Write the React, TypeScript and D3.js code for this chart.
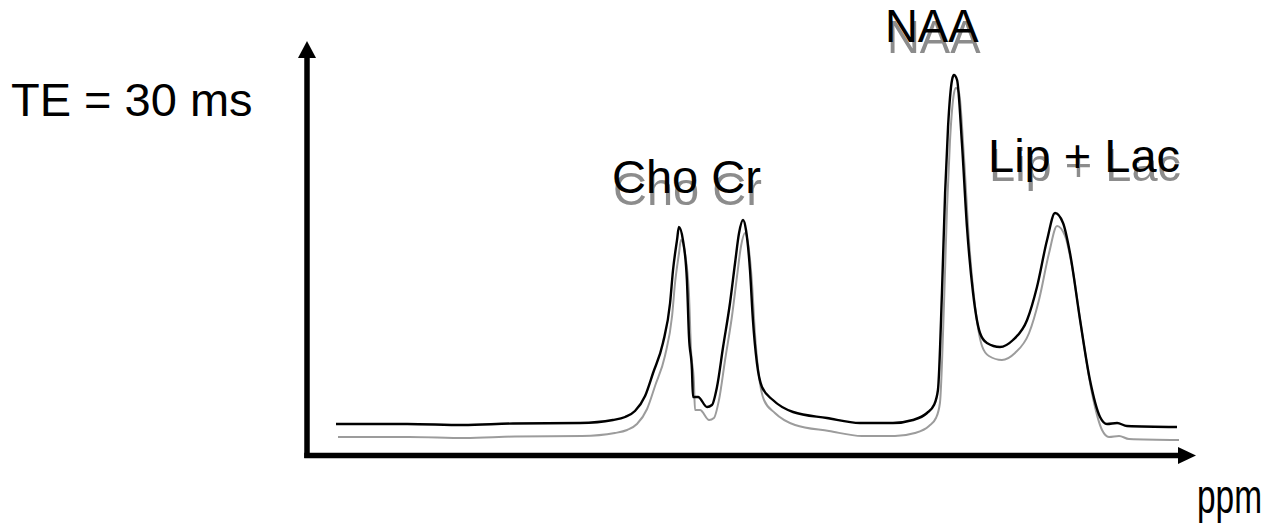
import React from "react";
import * as d3 from "d3";

// ---- data ----
const ppm = [
  4.0, 3.662, 3.396, 3.158, 2.839, 2.683, 2.625, 2.578, 2.53, 2.492, 2.445, 2.411, 2.397, 2.378, 2.369,
  2.35, 2.331, 2.321, 2.307, 2.302, 2.278, 2.235, 2.212, 2.188, 2.159, 2.126, 2.102, 2.083, 2.064,
  2.05, 2.031, 2.017, 1.998, 1.974, 1.922, 1.826, 1.665, 1.508, 1.351, 1.256, 1.189, 1.156,
  1.137, 1.118, 1.103, 1.089, 1.07, 1.061, 1.046, 1.023, 0.999, 0.97, 0.937, 0.904, 0.842, 0.78,
  0.713, 0.666, 0.618, 0.58, 0.542, 0.509, 0.461, 0.414, 0.366, 0.333, 0.285, 0.238, 0.0,
];
const intensity = [
  7.75, 7.75, 7.5, 7.875, 8.0, 8.75, 9.5, 11, 14.75, 20.5, 28, 38, 46.25, 53.75, 57,
  53.75, 43.75, 29.5, 21.25, 14.5, 14.5, 12, 12.5, 17, 27, 38, 48, 55.5, 58.75,
  56.25, 46.25, 33.75, 23, 17, 13.75, 10.75, 9.25, 8, 8, 8.75, 10.5, 12.5,
  16.25, 40.5, 65.5, 82, 93.75, 95, 93.75, 78, 57, 40.5, 30.5, 28, 27, 28.75,
  33.75, 42, 53.75, 60.5, 58, 50.5, 33.75, 18.75, 9.5, 7.75, 8, 7.25, 7,
];
const peakLabels = ["Cho Cr", "NAA", "Lip + Lac"];
const echoLabel = "TE = 30 ms";
const axisLabel = "ppm";

// ---- layout ----
const W = 1266;
const H = 528;
const FONT = "'Liberation Sans', Arial, Helvetica, sans-serif";
const labelPos = [
  { x: 612, y: 193, size: 47, sdx: 1, sdy: 12 },
  { x: 885, y: 42, size: 45.5, sdx: 2, sdy: 11 },
  { x: 988, y: 172, size: 47, sdx: 1, sdy: 9 },
];

export default function App() {
  const x = d3.scaleLinear().domain([4, 0]).range([336, 1177]);
  const y = d3.scaleLinear().domain([0, 100]).range([455, 55]);
  const pts = ppm.map((p, i) => [p, intensity[i]] as [number, number]);
  const line = d3
    .line<[number, number]>()
    .x((d) => x(d[0]))
    .y((d) => y(d[1]))
    .curve(d3.curveMonotoneX);
  const path = line(pts) || "";

  const axX = 307;
  const axY = 455.5;

  return (
    <svg
      width={W}
      height={H}
      viewBox={`0 0 ${W} ${H}`}
      style={{ position: "absolute", left: 0, top: 0, overflow: "hidden", background: "#fff" }}
    >
      <defs>
        <filter id="soft" x="-5%" y="-5%" width="110%" height="110%">
          <feGaussianBlur stdDeviation="0.7" />
        </filter>
      </defs>
      <rect x={0} y={0} width={W} height={H} fill="#fff" />

      {/* shadow spectrum */}
      <path
        d={path}
        transform="translate(2,13)"
        fill="none"
        stroke="#9c9c9c"
        strokeWidth={2}
        filter="url(#soft)"
      />
      {/* main spectrum */}
      <path d={path} fill="none" stroke="#000" strokeWidth={2.4} strokeLinejoin="round" />

      {/* axes */}
      <line x1={axX} y1={458} x2={axX} y2={56} stroke="#000" strokeWidth={5.5} />
      <polygon points={`${axX},41 ${axX - 9},58 ${axX + 9},58`} fill="#000" />
      <line x1={axX - 2.75} y1={axY} x2={1180} y2={axY} stroke="#000" strokeWidth={5.5} />
      <polygon points={`1196,${axY} 1178,${axY - 8.5} 1178,${axY + 8.5}`} fill="#000" />

      {/* peak labels with shadow */}
      {peakLabels.map((t, i) => {
        const p = labelPos[i];
        return (
          <g key={t} fontFamily={FONT} fontSize={p.size}>
            <text x={p.x + p.sdx} y={p.y + p.sdy} fill="#8c8c8c" filter="url(#soft)">
              {t}
            </text>
            <text x={p.x} y={p.y} fill="#000">
              {t}
            </text>
          </g>
        );
      })}

      <text x={11} y={116} fontFamily={FONT} fontSize={47} fill="#000">
        {echoLabel}
      </text>
      <text
        x={1197}
        y={513}
        fontFamily={FONT}
        fontSize={48}
        textLength={65}
        lengthAdjust="spacingAndGlyphs"
        fill="#000"
      >
        {axisLabel}
      </text>
    </svg>
  );
}
